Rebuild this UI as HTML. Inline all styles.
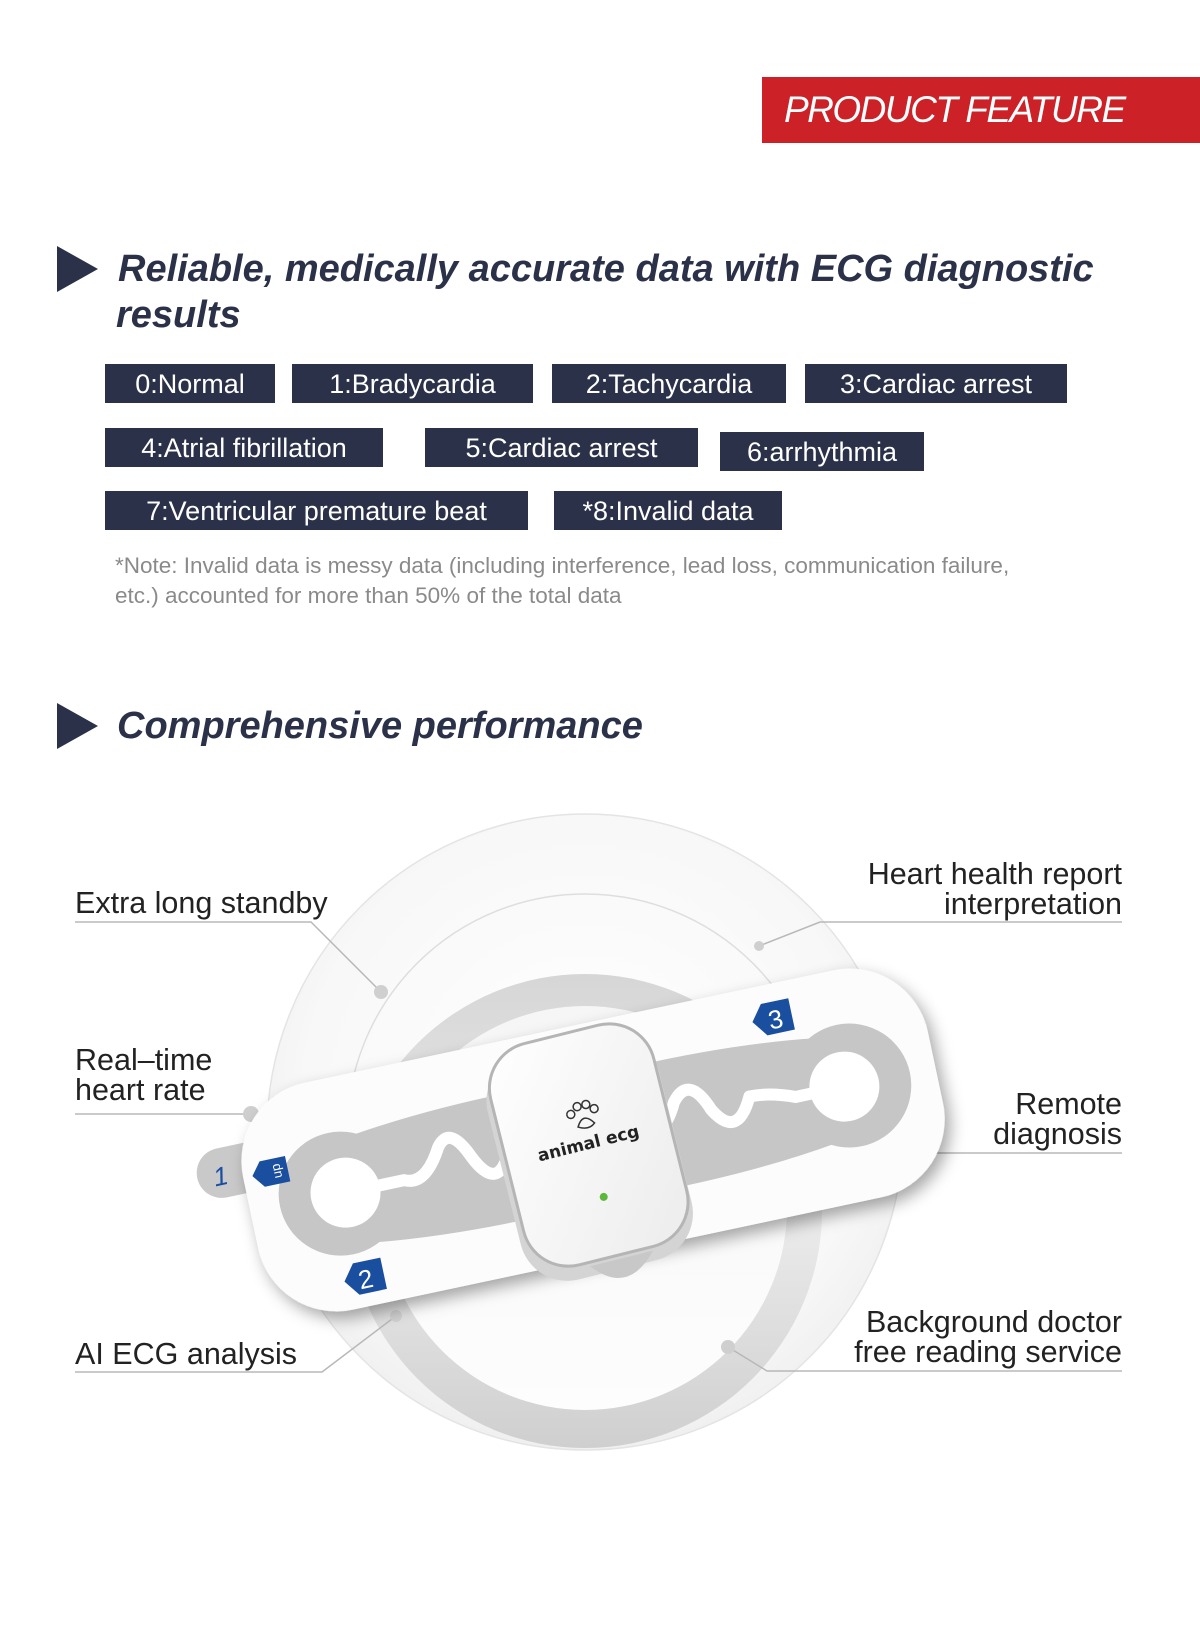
<!DOCTYPE html>
<html><head><meta charset="utf-8"><style>
html,body{margin:0;padding:0;background:#fff;}
body{width:1200px;height:1628px;position:relative;overflow:hidden;font-family:"Liberation Sans",sans-serif;}
.abs{position:absolute;}
.red{left:762px;top:77px;width:438px;height:66px;background:#cb2127;}
.red span{position:absolute;left:22px;top:12px;color:#fff;font-size:37px;font-style:italic;letter-spacing:-1.5px;white-space:nowrap;}
.tri{width:0;height:0;border-top:23px solid transparent;border-bottom:23px solid transparent;border-left:41px solid #2b3148;}
.h{color:#2b3148;font-weight:bold;font-style:italic;font-size:38px;white-space:nowrap;line-height:46px;}
.chip{background:#2b3148;color:#fff;font-size:27px;height:39px;line-height:40px;text-align:center;white-space:nowrap;}
.note{color:#8a8a8a;font-size:22.5px;line-height:30px;white-space:nowrap;}
.lab{color:#222;font-size:30.5px;line-height:30px;white-space:nowrap;}
.r{text-align:right;}
</style></head><body>
<div class="abs red"><span>PRODUCT FEATURE</span></div>

<div class="abs tri" style="left:57px;top:246px;"></div>
<div class="abs h" style="left:118px;top:246px;">Reliable, medically accurate data with ECG diagnostic</div>
<div class="abs h" style="left:116px;top:292px;">results</div>

<div class="abs chip" style="left:105px;top:364px;width:170px;">0:Normal</div>
<div class="abs chip" style="left:292px;top:364px;width:241px;">1:Bradycardia</div>
<div class="abs chip" style="left:552px;top:364px;width:234px;">2:Tachycardia</div>
<div class="abs chip" style="left:805px;top:364px;width:262px;">3:Cardiac arrest</div>
<div class="abs chip" style="left:105px;top:428px;width:278px;">4:Atrial fibrillation</div>
<div class="abs chip" style="left:425px;top:428px;width:273px;">5:Cardiac arrest</div>
<div class="abs chip" style="left:720px;top:432px;width:204px;">6:arrhythmia</div>
<div class="abs chip" style="left:105px;top:491px;width:423px;">7:Ventricular premature beat</div>
<div class="abs chip" style="left:554px;top:491px;width:228px;">*8:Invalid data</div>

<div class="abs note" style="left:115px;top:551px;">*Note: Invalid data is messy data (including interference, lead loss, communication failure,<br>etc.) accounted for more than 50% of the total data</div>

<div class="abs tri" style="left:57px;top:703px;"></div>
<div class="abs h" style="left:117px;top:703px;">Comprehensive performance</div>

<svg class="abs" style="left:0;top:0" width="1200" height="1628" viewBox="0 0 1200 1628">
<defs>
<radialGradient id="bg" cx="0.5" cy="0.45" r="0.55">
<stop offset="0" stop-color="#ffffff"/><stop offset="0.8" stop-color="#f8f8f8"/><stop offset="1" stop-color="#f0f0f0"/></radialGradient>
<linearGradient id="ring" x1="0" y1="0" x2="0" y2="1">
<stop offset="0" stop-color="#d6d6d6"/><stop offset="0.5" stop-color="#ececec"/><stop offset="1" stop-color="#cfcfcf"/></linearGradient>
<linearGradient id="inner" x1="0" y1="0" x2="0" y2="1">
<stop offset="0" stop-color="#f6f6f6"/><stop offset="1" stop-color="#fdfdfd"/></linearGradient>
<filter id="sh" x="-20%" y="-20%" width="140%" height="150%"><feDropShadow dx="4" dy="8" stdDeviation="8" flood-color="#000" flood-opacity="0.35"/></filter>
<linearGradient id="dev" x1="0" y1="0" x2="1" y2="1">
<stop offset="0" stop-color="#ffffff"/><stop offset="1" stop-color="#ececec"/></linearGradient>
</defs>
<circle cx="585" cy="1132" r="318" fill="url(#bg)" stroke="#e4e4e4" stroke-width="1.5"/>
<circle cx="585" cy="1132" r="238" fill="none" stroke="#dedede" stroke-width="1.5"/>
<circle cx="585" cy="1211" r="237" fill="url(#ring)"/>
<circle cx="585" cy="1208" r="202" fill="url(#inner)"/>

<g stroke="#b8b8b8" stroke-width="1.5" fill="none">
<polyline points="75,922 311,922 381,992"/>
<polyline points="75,1114 251,1114"/>
<polyline points="75,1372 322,1372 396,1316"/>
<polyline points="1122,922 820,922 759,946"/>
<polyline points="1122,1153 900,1153"/>
<polyline points="1122,1371 767,1371 728,1347"/>
</g>
<g fill="#cfcfcf">
<circle cx="381" cy="992" r="7"/><circle cx="251" cy="1114" r="8"/><circle cx="396" cy="1316" r="6"/>
<circle cx="759" cy="946" r="5"/><circle cx="728" cy="1347" r="7"/>
</g>

<g transform="rotate(-12 593 1140)">
<rect x="198" y="1070" width="80" height="50" rx="25" fill="#c9c9c9"/>
<text x="214" y="1107" font-family="Liberation Sans,sans-serif" font-style="italic" font-size="26" fill="#1a4fa0">1</text>
<rect x="243" y="1024" width="700" height="232" rx="80" fill="#fcfcfc" filter="url(#sh)"/>
<path d="M300,1095 Q420,1070 593,1078 Q760,1070 880,1095 L880,1185 Q760,1210 593,1202 Q420,1210 300,1185 Z" fill="#c6c6c6"/>
<circle cx="335" cy="1140" r="62" fill="#c6c6c6"/>
<circle cx="855" cy="1140" r="62" fill="#c6c6c6"/>
<circle cx="340" cy="1140" r="35" fill="#fff"/>
<circle cx="850" cy="1140" r="35" fill="#fff"/>
<path d="M370,1140 L400,1140 Q420,1150 440,1115 Q455,1095 470,1130 Q490,1175 510,1130 Q530,1100 550,1140 L630,1140 Q660,1160 680,1120 Q700,1095 715,1135 Q735,1170 755,1130 Q775,1130 800,1140 L820,1140" fill="none" stroke="#fff" stroke-width="12" stroke-linejoin="round"/>
<g transform="rotate(-2 588 1150)">
<rect x="498" y="1040" width="176" height="232" rx="48" fill="#d4d4d4"/>
<path d="M560,1262 Q590,1300 625,1262 Z" fill="#c8c8c8"/>
<rect x="504" y="1030" width="168" height="228" rx="46" fill="url(#dev)" stroke="#b5b5b5" stroke-width="3"/>
<text x="588" y="1148" text-anchor="middle" font-family="DejaVu Sans,sans-serif" font-weight="bold" font-size="17" fill="#222">animal ecg</text>
<g fill="none" stroke="#333" stroke-width="1.5">
<circle cx="578" cy="1110" r="4"/><circle cx="586" cy="1104" r="4"/><circle cx="595" cy="1104" r="4"/><circle cx="602" cy="1110" r="4"/>
<path d="M582,1124 Q590,1110 599,1124 Q592,1130 582,1124 Z"/>
</g>
<circle cx="590" cy="1198" r="4" fill="#5cb83a"/>
</g>
</g>

<g transform="rotate(-12 772 1018)">
<path d="M752,1018 L764,1002 L792,1002 L792,1034 L764,1034 Z" fill="#1a4fa0"/>
<text x="768" y="1029" font-family="Liberation Sans,sans-serif" font-size="26" fill="#fff">3</text>
</g>
<g transform="rotate(-12 366 1277)">
<path d="M344,1277 L356,1261 L384,1261 L384,1293 L356,1293 Z" fill="#1a4fa0"/>
<text x="358" y="1288" font-family="Liberation Sans,sans-serif" font-size="26" fill="#fff">2</text>
</g>
<g transform="rotate(-12 272 1172)">
<path d="M252,1172 L262,1159 L288,1159 L288,1185 L262,1185 Z" fill="#1a4fa0"/>
<text x="275" y="1178" transform="rotate(-90 275 1172)" text-anchor="middle" font-family="Liberation Sans,sans-serif" font-size="13" fill="#fff">up</text>
</g>
</svg>

<div class="abs lab" style="left:75px;top:888px;">Extra long standby</div>
<div class="abs lab" style="left:75px;top:1045px;">Real–time<br>heart rate</div>
<div class="abs lab" style="left:75px;top:1339px;">AI ECG analysis</div>
<div class="abs lab r" style="right:78px;top:859px;">Heart health report<br>interpretation</div>
<div class="abs lab r" style="right:78px;top:1089px;">Remote<br>diagnosis</div>
<div class="abs lab r" style="right:78px;top:1307px;">Background doctor<br>free reading service</div>
</body></html>
